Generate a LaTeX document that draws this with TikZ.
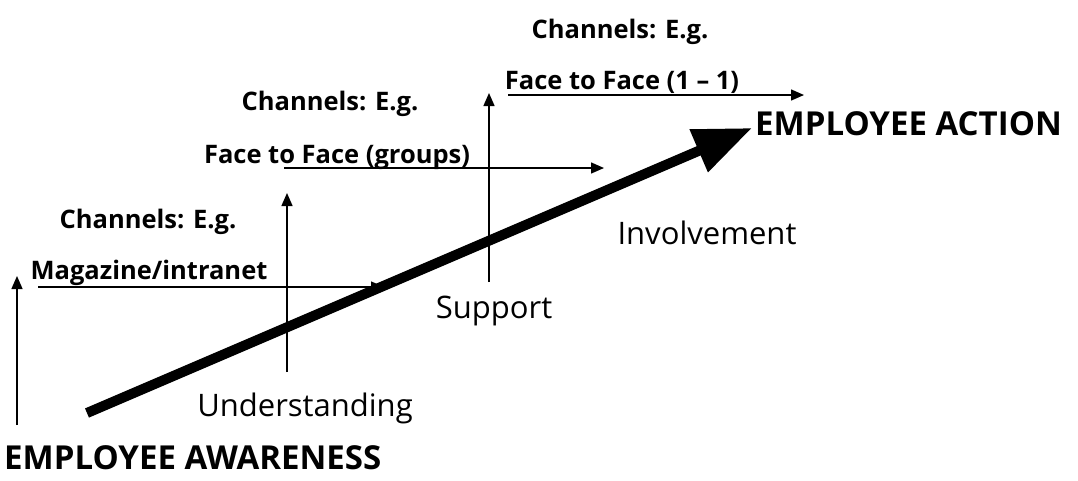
\documentclass[tikz,border=0pt]{standalone}
\usepackage{fontspec}
\setmainfont{Open Sans}
\usetikzlibrary{arrows.meta}
\begin{document}
\begin{tikzpicture}[x=1pt,y=-1pt,
  chan/.style={font=\bfseries\fontsize{25.5}{28}\selectfont, inner sep=0pt},
  stage/.style={font=\fontsize{31}{34}\selectfont, inner sep=0pt},
  big/.style={font=\bfseries\fontsize{33}{38}\selectfont, inner sep=0pt},
  thin/.style={line width=1.4pt, -{Triangle[length=13pt,width=11pt]}},
  thick/.style={line width=10pt, -{Triangle[length=58pt,width=44pt]}}]
\useasboundingbox (0,0) rectangle (1078,480);
% coordinates
\coordinate (ts) at (87,413);
\coordinate (te) at (752,128);
\coordinate (v1a) at (17,425); \coordinate (v1b) at (17,276);
\coordinate (h1a) at (38,287); \coordinate (h1b) at (384,287);
\coordinate (v2a) at (287,372); \coordinate (v2b) at (287,193);
\coordinate (h2a) at (284,168); \coordinate (h2b) at (604,168);
\coordinate (v3a) at (489,282); \coordinate (v3b) at (489,93);
\coordinate (h3a) at (508,95); \coordinate (h3b) at (804,95);
% texts
\node[chan] (c1) at (148,222) {Channels: E.g.};
\node[chan] (m1) at (149,273) {Magazine/intranet};
\node[chan] (c2) at (330,104) {Channels: E.g.};
\node[chan] (m2) at (337,157) {Face to Face (groups)};
\node[chan] (c3) at (620,32) {Channels: E.g.};
\node[chan] (m3) at (622,82) {Face to Face (1 -- 1)};
\node[stage] (u) at (305,408) {Understanding};
\node[stage] (s) at (494,311) {Support};
\node[stage] (i) at (707,233) {Involvement};
\node[big, anchor=west] (ea) at (755,124) {EMPLOYEE ACTION};
\node[big, anchor=west] (aw) at (4,458) {EMPLOYEE AWARENESS};
% arrows
\draw[thin] (v1a) -- (v1b);
\draw[thin] (h1a) -- (h1b);
\draw[thin] (v2a) -- (v2b);
\draw[thin] (h2a) -- (h2b);
\draw[thin] (v3a) -- (v3b);
\draw[thin] (h3a) -- (h3b);
\draw[thick] (ts) -- (te);
\end{tikzpicture}
\end{document}
